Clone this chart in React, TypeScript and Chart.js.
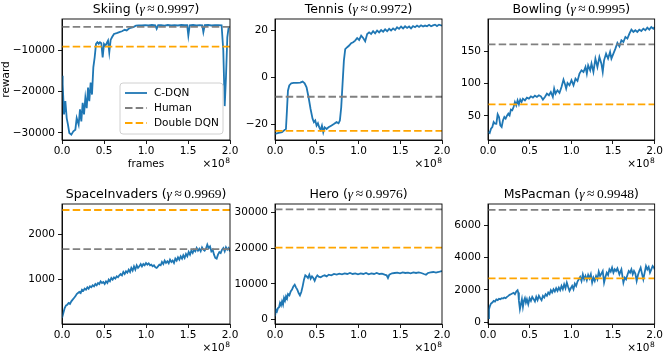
import React, { useEffect, useRef } from "react";
import { Chart, registerables } from "chart.js";
Chart.register(...registerables);

const W = 664;
const H = 355;
const SANS = "'DejaVu Sans', sans-serif";
const SERIF = "'Liberation Serif', 'DejaVu Serif', serif";
const YW = 50;
const XH = 30;

const seriesLabels = ["C-DQN", "Human", "Double DQN"];
const colors = ["#1f77b4", "#808080", "#ffa500"];
const xTicks = [0, 0.5, 1.0, 1.5, 2.0];

// frames are in units of 1e8
const skiingFrames = [0, 0.008, 0.024, 0.04, 0.056, 0.071, 0.087, 0.111, 0.135, 0.159, 0.175, 0.198, 0.214, 0.23, 0.246, 0.262, 0.278, 0.294, 0.31, 0.325, 0.341, 0.357, 0.373, 0.389, 0.405, 0.421, 0.437, 0.452, 0.468, 0.484, 0.5, 0.516, 0.532, 0.548, 0.563, 0.579, 0.595, 0.619, 0.651, 0.683, 0.714, 0.746, 0.77, 0.794, 0.817, 0.849, 0.881, 0.913, 0.95, 0.99, 1.03, 1.07, 1.11, 1.127, 1.145, 1.18, 1.22, 1.26, 1.3, 1.34, 1.38, 1.42, 1.46, 1.49, 1.504, 1.52, 1.56, 1.6, 1.64, 1.67, 1.683, 1.7, 1.74, 1.78, 1.82, 1.86, 1.9, 1.92, 1.937, 1.952, 1.968, 1.984, 2.0];
const skiingReward = [-16170, -18200, -25500, -22300, -26400, -28000, -30000, -30400, -29600, -29200, -26400, -28000, -24300, -27200, -22700, -25500, -21500, -24000, -19000, -22300, -17800, -20700, -14150, -11700, -8450, -8050, -8450, -8050, -8300, -11700, -8450, -8900, -8300, -7650, -10500, -7500, -6850, -6050, -5850, -5600, -5400, -5050, -5200, -4800, -4550, -4400, -4050, -3980, -3950, -3900, -4000, -3880, -3950, -4800, -3920, -3900, -4050, -3880, -3950, -3900, -4000, -3870, -3930, -3900, -6450, -3950, -3880, -4000, -3900, -3950, -5600, -3900, -3880, -4000, -3920, -3900, -3950, -10000, -23500, -16600, -6850, -4400, -4300];

const tennisFrames = [0, 0.044, 0.084, 0.116, 0.131, 0.143, 0.155, 0.171, 0.195, 0.223, 0.263, 0.303, 0.331, 0.355, 0.378, 0.402, 0.426, 0.45, 0.466, 0.482, 0.498, 0.514, 0.53, 0.546, 0.562, 0.578, 0.594, 0.618, 0.641, 0.673, 0.705, 0.737, 0.761, 0.777, 0.793, 0.809, 0.825, 0.841, 0.865, 0.888, 0.912, 0.936, 0.96, 0.984, 1.008, 1.032, 1.056, 1.08, 1.104, 1.127, 1.151, 1.175, 1.199, 1.223, 1.247, 1.271, 1.295, 1.319, 1.343, 1.367, 1.39, 1.414, 1.438, 1.462, 1.486, 1.51, 1.534, 1.558, 1.582, 1.606, 1.629, 1.653, 1.677, 1.701, 1.725, 1.749, 1.773, 1.797, 1.821, 1.845, 1.869, 1.892, 1.916, 1.94, 1.964, 2.0];
const tennisReward = [-24.1, -23.7, -23.4, -22.4, -22, -14.2, -5.7, -3.5, -2.55, -2.4, -2.4, -2.3, -1.85, -2.55, -4.25, -8.5, -13.5, -17.7, -19.1, -18.4, -20.6, -19.6, -21.3, -22.4, -20.6, -23.4, -21.3, -22, -21.3, -20.6, -19.9, -19.1, -19.6, -18.4, -12.8, -2.8, 7.1, 12, 12.8, 13.5, 14.5, 14.9, 15.6, 16.7, 15.9, 17.7, 16.7, 15.3, 18.4, 19.1, 18.4, 19.6, 18.7, 19.9, 19.1, 20.1, 19.4, 20.4, 19.6, 20.6, 19.9, 20.8, 20.1, 21.3, 20.6, 21.6, 20.8, 21.7, 21, 21.6, 20.8, 21.8, 21.3, 22, 21.4, 22.1, 21.6, 22, 21.7, 22.3, 21.7, 22.1, 22.4, 21.8, 22.4, 22];

const bowlingFrames = [0, 0.02, 0.036, 0.052, 0.068, 0.084, 0.1, 0.116, 0.132, 0.148, 0.164, 0.18, 0.196, 0.212, 0.228, 0.244, 0.259, 0.275, 0.291, 0.307, 0.323, 0.339, 0.355, 0.371, 0.387, 0.403, 0.419, 0.443, 0.467, 0.491, 0.515, 0.539, 0.563, 0.587, 0.611, 0.635, 0.659, 0.683, 0.707, 0.731, 0.754, 0.778, 0.794, 0.81, 0.834, 0.858, 0.882, 0.906, 0.922, 0.938, 0.954, 0.978, 1.002, 1.026, 1.05, 1.074, 1.098, 1.122, 1.146, 1.17, 1.186, 1.202, 1.226, 1.242, 1.265, 1.289, 1.313, 1.337, 1.361, 1.377, 1.393, 1.417, 1.441, 1.465, 1.481, 1.505, 1.529, 1.553, 1.577, 1.601, 1.625, 1.649, 1.673, 1.697, 1.721, 1.745, 1.768, 1.792, 1.816, 1.84, 1.864, 1.888, 1.912, 1.936, 1.96, 1.984, 2.0];
const bowlingReward = [25.3, 23.7, 30.4, 33, 40.7, 38.1, 38, 52.6, 48.5, 35.6, 33, 43.3, 48.5, 45.9, 50.5, 53.6, 51, 59.8, 58.8, 63.9, 71.6, 66.5, 74.2, 68, 75.3, 71.6, 76.8, 74.2, 78.4, 76.8, 80.4, 78.4, 81.4, 79.4, 82, 80.4, 75.3, 79.4, 84.5, 82, 87.1, 79.4, 92.3, 84.5, 89.7, 85.6, 94.8, 106.2, 100, 92.3, 101, 97.4, 105.2, 97.4, 107.7, 104.1, 115.5, 120.6, 118, 125.8, 115.5, 128.4, 120.6, 130.9, 118, 138.7, 125.8, 141.2, 130.9, 118, 136, 146.4, 138.7, 149, 138.7, 146.4, 154.1, 162.9, 157.7, 167, 164.4, 172.2, 169.6, 177.3, 183.5, 179.9, 182.5, 179.9, 183.5, 181.4, 185, 182.5, 186.6, 183.5, 187.6, 185, 187.6];

const invadersFrames = [0, 0.016, 0.032, 0.048, 0.063, 0.079, 0.095, 0.111, 0.127, 0.143, 0.159, 0.175, 0.19, 0.206, 0.222, 0.238, 0.254, 0.27, 0.286, 0.302, 0.317, 0.333, 0.349, 0.365, 0.381, 0.397, 0.413, 0.429, 0.444, 0.46, 0.476, 0.492, 0.508, 0.524, 0.54, 0.556, 0.571, 0.587, 0.603, 0.619, 0.635, 0.651, 0.667, 0.683, 0.698, 0.714, 0.73, 0.746, 0.762, 0.778, 0.794, 0.81, 0.825, 0.841, 0.857, 0.873, 0.889, 0.905, 0.921, 0.937, 0.952, 0.968, 0.984, 1.0, 1.016, 1.032, 1.048, 1.063, 1.079, 1.095, 1.111, 1.127, 1.143, 1.159, 1.175, 1.19, 1.206, 1.222, 1.238, 1.254, 1.27, 1.286, 1.302, 1.317, 1.333, 1.349, 1.365, 1.381, 1.397, 1.413, 1.429, 1.444, 1.46, 1.476, 1.492, 1.508, 1.524, 1.54, 1.556, 1.571, 1.587, 1.603, 1.619, 1.635, 1.651, 1.667, 1.683, 1.698, 1.714, 1.73, 1.746, 1.762, 1.778, 1.794, 1.81, 1.825, 1.841, 1.857, 1.873, 1.889, 1.905, 1.921, 1.937, 1.952, 1.968, 1.984, 2.0];
const invadersReward = [160, 270, 380, 438, 452, 489, 467, 525, 562, 598, 635, 686, 708, 730, 708, 781, 759, 803, 781, 832, 803, 854, 832, 876, 854, 905, 876, 927, 905, 964, 927, 949, 905, 964, 927, 1000, 964, 1037, 1000, 1051, 1022, 1073, 1051, 1095, 1124, 1095, 1168, 1124, 1183, 1153, 1219, 1168, 1256, 1197, 1292, 1219, 1314, 1256, 1292, 1343, 1292, 1343, 1314, 1365, 1329, 1358, 1314, 1329, 1292, 1314, 1270, 1256, 1292, 1329, 1314, 1387, 1343, 1417, 1365, 1402, 1358, 1438, 1387, 1417, 1365, 1460, 1417, 1489, 1438, 1511, 1460, 1533, 1475, 1562, 1511, 1606, 1548, 1635, 1584, 1657, 1621, 1694, 1635, 1679, 1621, 1708, 1657, 1635, 1679, 1767, 1694, 1730, 1621, 1657, 1548, 1475, 1460, 1548, 1606, 1584, 1657, 1694, 1621, 1708, 1657, 1694, 1621];

const heroFrames = [0, 0.012, 0.024, 0.036, 0.048, 0.06, 0.072, 0.084, 0.096, 0.108, 0.12, 0.132, 0.144, 0.156, 0.172, 0.188, 0.204, 0.22, 0.236, 0.251, 0.267, 0.283, 0.299, 0.315, 0.331, 0.347, 0.363, 0.379, 0.395, 0.411, 0.427, 0.443, 0.459, 0.475, 0.491, 0.507, 0.523, 0.547, 0.571, 0.595, 0.619, 0.643, 0.675, 0.707, 0.739, 0.77, 0.802, 0.834, 0.866, 0.898, 0.93, 0.962, 0.994, 1.026, 1.058, 1.09, 1.122, 1.154, 1.186, 1.218, 1.25, 1.281, 1.313, 1.337, 1.353, 1.369, 1.401, 1.433, 1.465, 1.497, 1.529, 1.561, 1.593, 1.625, 1.657, 1.689, 1.721, 1.752, 1.784, 1.808, 1.832, 1.864, 1.896, 1.928, 1.96, 1.984, 2.0];
const heroReward = [930, 2800, 2330, 3260, 3450, 4660, 4000, 5130, 4190, 6060, 5310, 6520, 5870, 7180, 6800, 7920, 8390, 9320, 9790, 9040, 8390, 7460, 6800, 7740, 9320, 11180, 12400, 12120, 11650, 12580, 11460, 12120, 11650, 10900, 11840, 12400, 12020, 11840, 12210, 12400, 12120, 12580, 12400, 12770, 12580, 12860, 12680, 12960, 12770, 13050, 12770, 12960, 12680, 12960, 12770, 13050, 12680, 12960, 12770, 13050, 12770, 12860, 12580, 12400, 11650, 12580, 12960, 13050, 13140, 12960, 13230, 13050, 13140, 12960, 13230, 13050, 13230, 13050, 12770, 12580, 13050, 13230, 13330, 13140, 13330, 13510, 13600];

const pacmanFrames = [0, 0.012, 0.024, 0.036, 0.052, 0.068, 0.084, 0.1, 0.116, 0.132, 0.148, 0.164, 0.18, 0.196, 0.212, 0.228, 0.244, 0.259, 0.275, 0.291, 0.307, 0.323, 0.339, 0.355, 0.363, 0.371, 0.383, 0.395, 0.407, 0.419, 0.431, 0.443, 0.455, 0.467, 0.483, 0.499, 0.515, 0.531, 0.547, 0.563, 0.579, 0.595, 0.611, 0.627, 0.643, 0.659, 0.675, 0.691, 0.707, 0.723, 0.739, 0.754, 0.77, 0.786, 0.802, 0.818, 0.834, 0.85, 0.866, 0.882, 0.898, 0.914, 0.93, 0.946, 0.962, 0.978, 0.994, 1.01, 1.026, 1.042, 1.058, 1.074, 1.09, 1.106, 1.122, 1.138, 1.154, 1.17, 1.186, 1.202, 1.218, 1.234, 1.25, 1.265, 1.281, 1.297, 1.313, 1.329, 1.345, 1.361, 1.377, 1.393, 1.409, 1.425, 1.441, 1.457, 1.473, 1.489, 1.505, 1.521, 1.537, 1.553, 1.577, 1.601, 1.625, 1.641, 1.657, 1.673, 1.689, 1.705, 1.721, 1.737, 1.752, 1.768, 1.784, 1.8, 1.816, 1.832, 1.848, 1.864, 1.88, 1.896, 1.912, 1.928, 1.944, 1.96, 1.976, 1.992, 2.0];
const pacmanReward = [266, 819, 1024, 1167, 1228, 1331, 1290, 1412, 1371, 1453, 1433, 1494, 1474, 1535, 1494, 1576, 1638, 1699, 1740, 1781, 1822, 1740, 1904, 1986, 1842, 1331, 819, 1126, 1433, 962, 1331, 1494, 1228, 1433, 1126, 1494, 1331, 1576, 1433, 1290, 1576, 1371, 1638, 1494, 1371, 1638, 1535, 1740, 1638, 1842, 1740, 1986, 1842, 2047, 1904, 2108, 1945, 2149, 1986, 2252, 2047, 2354, 2108, 2456, 2190, 1945, 2108, 2252, 2047, 2395, 2252, 2518, 2661, 2804, 2559, 2968, 2661, 2866, 2600, 2927, 2722, 2968, 2456, 2763, 2559, 2866, 2661, 3132, 2866, 3009, 3173, 2456, 2804, 3071, 2927, 3275, 3132, 3378, 3071, 3275, 3173, 3337, 2968, 3275, 2456, 2763, 2661, 2927, 3173, 3071, 3275, 2968, 3173, 3009, 2559, 2927, 3173, 3378, 3009, 2661, 3071, 3480, 3275, 3419, 3071, 3275, 3480, 3378, 3275];

const gameNames = ["Skiing", "Tennis", "Bowling", "SpaceInvaders", "Hero", "MsPacman"];
const gammas = ["0.9997", "0.9972", "0.9995", "0.9969", "0.9976", "0.9948"];
const humanScores = [-4337, -8.3, 160.7, 1668.7, 30826.4, 6951.6];
const ddqnScores = [-9100, -22.8, 68.1, 2525.5, 20130.2, 2711.4];
const yMins = [-31700, -26.7, 12.9, 29, -1210, -100];
const yMaxs = [-2430, 24.8, 199.9, 2657, 32340, 7310];
const yTickSets = [
  [-30000, -20000, -10000],
  [-20, 0, 20],
  [50, 100, 150],
  [1000, 2000],
  [0, 10000, 20000, 30000],
  [0, 2000, 4000, 6000],
];
const framesSets = [skiingFrames, tennisFrames, bowlingFrames, invadersFrames, heroFrames, pacmanFrames];
const rewardSets = [skiingReward, tennisReward, bowlingReward, invadersReward, heroReward, pacmanReward];

// plot-area boxes in page pixels
const colLeft = [62, 275, 488];
const colRight = [230, 442, 655];
const rowTop = [19, 204];
const rowBottom = [140, 324];

const DASH = [7.5, 3.2];
const LW = 1.8;

const fmtY = (v: number) => (v < 0 ? "\u2212" + String(Math.abs(v)) : String(v));

function drawTitle(ctx: CanvasRenderingContext2D, name: string, gamma: string, cx: number, baseY: number) {
  const parts = [
    { t: name + " (", f: `12.5px ${SANS}`, gap: 0 },
    { t: "\u03b3", f: `italic 13.5px ${SERIF}`, gap: 2.5 },
    { t: "\u2248", f: `13.5px ${SERIF}`, gap: 2.5 },
    { t: gamma, f: `13.5px ${SERIF}`, gap: 0 },
    { t: ")", f: `12.5px ${SANS}`, gap: 0 },
  ];
  let total = 0;
  const widths: number[] = [];
  for (const p of parts) {
    ctx.font = p.f;
    const w = ctx.measureText(p.t).width;
    widths.push(w);
    total += w + p.gap;
  }
  let x = cx - total / 2;
  ctx.fillStyle = "#000";
  ctx.textAlign = "left";
  ctx.textBaseline = "alphabetic";
  parts.forEach((p, i) => {
    ctx.font = p.f;
    ctx.fillText(p.t, x, baseY);
    x += widths[i] + p.gap;
  });
}

function makeDecor(idx: number) {
  return {
    id: "decor" + idx,
    afterDraw(chart: any) {
      const ctx: CanvasRenderingContext2D = chart.ctx;
      const a = chart.chartArea;
      ctx.save();
      // frame
      ctx.strokeStyle = "#000";
      ctx.lineWidth = 0.9;
      ctx.strokeRect(a.left, a.top, a.right - a.left, a.bottom - a.top);
      // title
      drawTitle(ctx, gameNames[idx], gammas[idx], (a.left + a.right) / 2, a.top - 6);
      // x10^8
      ctx.fillStyle = "#000";
      ctx.textBaseline = "alphabetic";
      ctx.font = `7.5px ${SANS}`;
      const w8 = ctx.measureText("8").width;
      ctx.textAlign = "right";
      ctx.fillText("8", a.right, a.bottom + 23);
      ctx.font = `10.5px ${SANS}`;
      ctx.fillText("\u00d710", a.right - w8 - 0.5, a.bottom + 27);
      if (idx === 0) {
        ctx.textAlign = "center";
        ctx.font = `10.5px ${SANS}`;
        ctx.fillText("frames", (a.left + a.right) / 2, a.bottom + 27);
        ctx.save();
        ctx.translate(9, (a.top + a.bottom) / 2);
        ctx.rotate(-Math.PI / 2);
        ctx.textBaseline = "alphabetic";
        ctx.fillText("reward", 0, 0);
        ctx.restore();
        // legend
        const lx = 120, ly = 83, lw = 103, lh = 51, r = 3;
        ctx.beginPath();
        ctx.moveTo(lx + r, ly);
        ctx.lineTo(lx + lw - r, ly);
        ctx.quadraticCurveTo(lx + lw, ly, lx + lw, ly + r);
        ctx.lineTo(lx + lw, ly + lh - r);
        ctx.quadraticCurveTo(lx + lw, ly + lh, lx + lw - r, ly + lh);
        ctx.lineTo(lx + r, ly + lh);
        ctx.quadraticCurveTo(lx, ly + lh, lx, ly + lh - r);
        ctx.lineTo(lx, ly + r);
        ctx.quadraticCurveTo(lx, ly, lx + r, ly);
        ctx.closePath();
        ctx.fillStyle = "rgba(255,255,255,0.8)";
        ctx.fill();
        ctx.strokeStyle = "#d0d0d0";
        ctx.lineWidth = 1;
        ctx.stroke();
        const rows = [93, 108, 123];
        rows.forEach((yy, i) => {
          ctx.beginPath();
          ctx.strokeStyle = colors[i];
          ctx.lineWidth = LW;
          ctx.setLineDash(i === 0 ? [] : DASH);
          ctx.moveTo(125, yy);
          ctx.lineTo(147, yy);
          ctx.stroke();
          ctx.setLineDash([]);
          ctx.fillStyle = "#000";
          ctx.font = `10.5px ${SANS}`;
          ctx.textAlign = "left";
          ctx.textBaseline = "middle";
          ctx.fillText(seriesLabels[i], 154, yy);
        });
      }
      ctx.restore();
    },
  };
}

function Panel({ idx }: { idx: number }) {
  const ref = useRef<HTMLCanvasElement>(null);
  useEffect(() => {
    const col = idx % 3;
    const row = Math.floor(idx / 3);
    const l = colLeft[col], r = colRight[col], t = rowTop[row], b = rowBottom[row];
    const frames = framesSets[idx];
    const reward = rewardSets[idx];
    const tickFont = { family: SANS, size: 10.5 };
    const chart = new Chart(ref.current as HTMLCanvasElement, {
      type: "line",
      data: {
        datasets: [
          {
            label: seriesLabels[0],
            data: frames.map((x, i) => ({ x, y: reward[i] })),
            borderColor: colors[0],
            borderWidth: LW,
            pointRadius: 0,
            tension: 0,
            fill: false,
            order: 3,
          },
          {
            label: seriesLabels[1],
            data: [{ x: 0, y: humanScores[idx] }, { x: 2, y: humanScores[idx] }],
            borderColor: colors[1],
            borderWidth: LW,
            borderDash: DASH,
            pointRadius: 0,
            fill: false,
            order: 2,
          },
          {
            label: seriesLabels[2],
            data: [{ x: 0, y: ddqnScores[idx] }, { x: 2, y: ddqnScores[idx] }],
            borderColor: colors[2],
            borderWidth: LW,
            borderDash: DASH,
            pointRadius: 0,
            fill: false,
            order: 1,
          },
        ],
      },
      options: {
        animation: false,
        responsive: false,
        events: [],
        layout: { padding: { left: l - YW, top: t, right: W - r, bottom: H - b - XH } },
        plugins: { legend: { display: false }, title: { display: false }, tooltip: { enabled: false } },
        scales: {
          x: {
            type: "linear",
            min: 0,
            max: 2,
            afterBuildTicks: (s: any) => {
              s.ticks = xTicks.map((v) => ({ value: v }));
            },
            afterFit: (s: any) => {
              s.height = XH;
            },
            grid: { drawOnChartArea: false, drawTicks: true, tickLength: 4, color: "#000", lineWidth: 0.9 },
            border: { display: true, color: "#000", width: 0.9 },
            ticks: {
              color: "#000",
              font: tickFont,
              padding: 1,
              maxRotation: 0,
              autoSkip: false,
              callback: (v: any) => Number(v).toFixed(1),
            },
          },
          y: {
            type: "linear",
            min: yMins[idx],
            max: yMaxs[idx],
            afterBuildTicks: (s: any) => {
              s.ticks = yTickSets[idx].map((v) => ({ value: v }));
            },
            afterFit: (s: any) => {
              s.width = YW;
            },
            grid: { drawOnChartArea: false, drawTicks: true, tickLength: 4, color: "#000", lineWidth: 0.9 },
            border: { display: true, color: "#000", width: 0.9 },
            ticks: {
              color: "#000",
              font: tickFont,
              padding: 3,
              autoSkip: false,
              callback: (v: any) => fmtY(Number(v)),
            },
          },
        },
      },
      plugins: [makeDecor(idx)],
    } as any);
    return () => chart.destroy();
  }, [idx]);
  return (
    <canvas
      ref={ref}
      width={W}
      height={H}
      style={{ position: "absolute", left: 0, top: 0, width: W, height: H }}
    />
  );
}

export default function App() {
  return (
    <div style={{ position: "absolute", left: 0, top: 0, width: W, height: H, background: "#fff" }}>
      {[0, 1, 2, 3, 4, 5].map((i) => (
        <Panel key={i} idx={i} />
      ))}
    </div>
  );
}
